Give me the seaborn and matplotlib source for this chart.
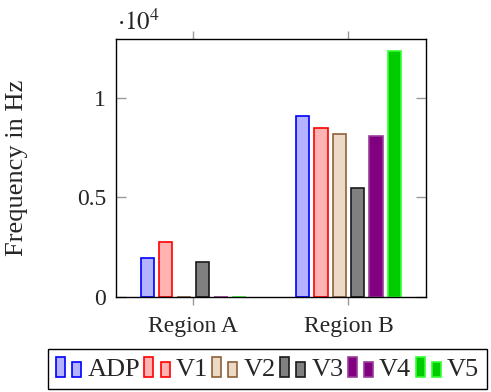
import matplotlib
matplotlib.use("Agg")
import matplotlib.pyplot as plt
from matplotlib.patches import Rectangle
from matplotlib.legend_handler import HandlerBase
import pandas as pd
import seaborn as sns

# Data (Hz)
regions = ["Region A", "Region B"]
series = ["ADP", "V1", "V2", "V3", "V4", "V5"]
adp = [1950, 9100]
v1 = [2780, 8500]
v2 = [0, 8200]
v3 = [1730, 5500]
v4 = [0, 8100]
v5 = [0, 12400]
y_ticks = [0, 5000, 10000]
y_tick_labels = ["0", "0.5", "1"]

fills = ["#b3b3ff", "#ffb3b3", "#ecd9c6", "#808080", "#800080", "#00cc00"]
edges = ["#0000ff", "#ff0000", "#8c6239", "#1a1a1a", "#9a3d9a", "#33ff33"]

values = [adp, v1, v2, v3, v4, v5]
rows = []
for name, vals in zip(series, values):
    for reg, v in zip(regions, vals):
        rows.append({"region": reg, "series": name, "freq": v})
df = pd.DataFrame(rows)

sns.set_theme(style="white")
plt.rcParams["font.family"] = ["Liberation Serif", "DejaVu Serif"]
plt.rcParams["mathtext.fontset"] = "stix"

fs = 17
fig = plt.figure(figsize=(4.91, 3.92), dpi=100)
ax = fig.add_axes([115.7 / 491, 1 - 296.7 / 392, (426 - 115.7) / 491, (296.7 - 38.7) / 392])

sns.barplot(data=df, x="region", y="freq", hue="series", order=regions, hue_order=series,
            palette=fills, saturation=1, width=0.71, gap=0.27, errorbar=None,
            legend=False, ax=ax)
for cont, ec in zip(ax.containers, edges):
    for bar in cont:
        bar.set_edgecolor(ec)
        bar.set_linewidth(1.2)

ax.set_xlim(-0.5, 1.5)
ax.set_ylim(0, 13000)
ax.set_yticks(y_ticks, y_tick_labels)
ax.set_xlabel("")
ax.set_ylabel("Frequency in Hz", fontsize=19)
ax.yaxis.set_label_coords(-0.283, 0.5)
ax.tick_params(axis="y", direction="in", length=7, width=1, color="#999999",
               left=True, right=True, labelsize=fs, pad=7)
ax.tick_params(axis="x", direction="out", length=6, width=1, color="#999999",
               top=True, bottom=True, labelsize=fs, pad=8)
for sp in ax.spines.values():
    sp.set_color("black")
    sp.set_linewidth(1)

ax.text(0.003, 1.034, r"$\cdot10^{4}$", transform=ax.transAxes, fontsize=18,
        ha="left", va="baseline")


# pgfplots style legend image: a tall and a short bar
class TwoBars(HandlerBase):
    def create_artists(self, legend, orig_handle, xdescent, ydescent, width, height, fontsize, trans):
        fc = orig_handle.get_facecolor()
        ec = orig_handle.get_edgecolor()
        w = width * 0.36
        tall = Rectangle((-xdescent, -ydescent), w, height, fc=fc, ec=ec, lw=1.2, transform=trans)
        short = Rectangle((-xdescent + width - w, -ydescent), w, height * 0.76, fc=fc, ec=ec,
                          lw=1.2, transform=trans)
        return [tall, short]


handles = [Rectangle((0, 0), 1, 1, fc=f, ec=e) for f, e in zip(fills, edges)]
leg = fig.legend(handles, series, handler_map={Rectangle: TwoBars()}, ncol=6,
                 loc="upper left", bbox_to_anchor=(48.3 / 491, 1 - 349.3 / 392),
                 bbox_transform=fig.transFigure, fontsize=19, frameon=True, fancybox=False,
                 edgecolor="black", framealpha=1, handlelength=0.95, handleheight=0.8,
                 handletextpad=0.23, columnspacing=0.17, borderpad=0.3, borderaxespad=0)
leg.get_frame().set_linewidth(1)

fig.savefig("out.png", dpi=100)
